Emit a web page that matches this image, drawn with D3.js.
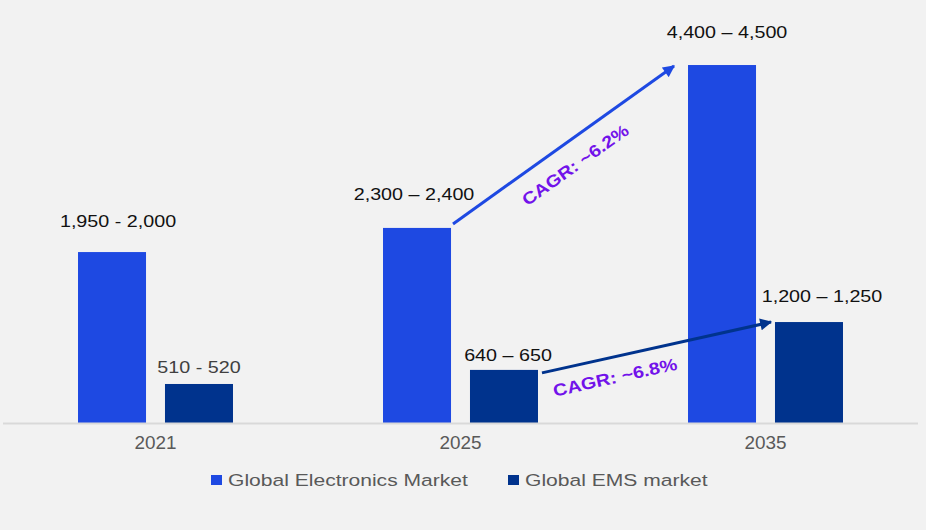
<!DOCTYPE html>
<html>
<head>
<meta charset="utf-8">
<script src="https://cdn.jsdelivr.net/npm/d3@7"></script>
<style>
  html, body { margin: 0; padding: 0; background: #f2f2f2; }
  svg { display: block; font-family: "Liberation Sans", Arial, sans-serif; }
</style>
</head>
<body>
<svg id="chart"></svg>
<script>
// data (bar heights, in the chart's own units)
var years = ["2021", "2025", "2035"];
var series = ["Global Electronics Market", "Global EMS market"];
var electronics = [2125, 2425, 4450];
var ems = [485, 660, 1255];
var electronicsLabels = ["1,950 - 2,000", "2,300 \u2013 2,400", "4,400 \u2013 4,500"];
var emsLabels = ["510 - 520", "640 \u2013 650", "1,200 \u2013 1,250"];
var cagrLabels = ["CAGR: ~6.2%", "CAGR: ~6.8%"];

var width = 926, height = 530;
var colors = { "Global Electronics Market": "#1e49e2", "Global EMS market": "#00338d" };
var purple = "#7213ea";
var stretch = 1.16;

var svg = d3.select("#chart").attr("width", width).attr("height", height);

svg.append("defs").selectAll("marker")
    .data(series)
    .enter()
    .append("marker")
    .attr("id", function(d, i){ return "head" + i; })
    .attr("viewBox", "0 0 10 10")
    .attr("refX", 9).attr("refY", 5)
    .attr("markerWidth", 4.5).attr("markerHeight", 4)
    .attr("markerUnits", "strokeWidth")
    .attr("orient", "auto")
    .append("path")
    .attr("d", "M0,0 L10,5 L0,10 z")
    .attr("fill", function(d){ return colors[d]; });

var x = d3.scaleBand().domain(years).range([3, 918]).paddingInner(0).paddingOuter(0);
var xSub = d3.scaleBand().domain(series).range([0, x.bandwidth()]).paddingInner(0.218).paddingOuter(0.8625);
var y = d3.scaleLinear().domain([0, 4500]).range([423, 61]);

var rows = years.map(function(yr, i){
    return { year: yr, values: [
        { key: series[0], value: electronics[i], label: electronicsLabels[i] },
        { key: series[1], value: ems[i], label: emsLabels[i] }
    ]};
});

// text helper: glyphs in the reference are a bit wider than Arial
function stretchedText(g, tx, ty, txt, sx){
    return g.append("text")
        .attr("transform", "translate(" + tx + "," + ty + ") scale(" + (sx || stretch) + ",1)")
        .text(txt);
}

// bars
var groups = svg.selectAll("g.year")
    .data(rows)
    .enter()
    .append("g")
    .attr("class", "year")
    .attr("transform", function(d){ return "translate(" + x(d.year) + ",0)"; });

groups.selectAll("rect")
    .data(function(d){ return d.values; })
    .enter()
    .append("rect")
    .attr("x", function(d){ return xSub(d.key); })
    .attr("width", xSub.bandwidth())
    .attr("y", function(d){ return y(d.value); })
    .attr("height", function(d){ return y(0) - y(d.value); })
    .attr("fill", function(d){ return colors[d.key]; });

// value labels (small nudges like in the original slide)
var nudge = [[[6, -25], [0, -11]], [[-3, -28], [4, -9]], [[5, -27], [13, -20]]];
rows.forEach(function(r, i){
    var g = svg.append("g").attr("transform", "translate(" + x(r.year) + ",0)");
    r.values.forEach(function(v, j){
        stretchedText(g, xSub(v.key) + xSub.bandwidth() / 2 + nudge[i][j][0], y(v.value) + nudge[i][j][1], v.label)
            .attr("text-anchor", "middle")
            .attr("font-size", 17)
            .attr("fill", (i == 0 && j == 1) ? "#404040" : "#111");
    });
});

// x axis
svg.append("line")
    .attr("x1", x.range()[0]).attr("x2", x.range()[1])
    .attr("y1", y(0) + 0.5).attr("y2", y(0) + 0.5)
    .attr("stroke", "#d9d9d9").attr("stroke-width", 2);

years.forEach(function(yr){
    stretchedText(svg, x(yr) + x.bandwidth() / 2, 449, yr, 1.05)
        .attr("text-anchor", "middle")
        .attr("font-size", 18)
        .attr("fill", "#595959");
});

// CAGR arrows 2025 -> 2035
var arrows = [
    { k: 0, s: [2, -4], e: [-14, 1], along: -2, off: 23 },
    { k: 1, s: [4, 3], e: [-4, 0], along: -47, off: 20 }
];
arrows.forEach(function(a, i){
    var key = series[a.k];
    var vals = a.k == 0 ? electronics : ems;
    var x1 = x("2025") + xSub(key) + xSub.bandwidth() + a.s[0];
    var y1 = y(vals[1]) + a.s[1];
    var x2 = x("2035") + xSub(key) + a.e[0];
    var y2 = y(vals[2]) + a.e[1];
    svg.append("line")
        .attr("x1", x1).attr("y1", y1)
        .attr("x2", x2).attr("y2", y2)
        .attr("stroke", colors[key])
        .attr("stroke-width", 3)
        .attr("marker-end", "url(#head" + a.k + ")");

    var dx = x2 - x1, dy = y2 - y1, len = Math.sqrt(dx * dx + dy * dy);
    var ux = dx / len, uy = dy / len;
    var cx = (x1 + x2) / 2 + ux * a.along - uy * a.off;
    var cy = (y1 + y2) / 2 + uy * a.along + ux * a.off;
    var ang = Math.atan2(dy, dx) * 180 / Math.PI;
    svg.append("text")
        .attr("transform", "translate(" + cx + "," + cy + ") rotate(" + ang + ") scale(" + stretch + ",1)")
        .attr("text-anchor", "middle")
        .attr("dominant-baseline", "central")
        .attr("font-size", 17)
        .attr("font-weight", "bold")
        .attr("fill", purple)
        .text(cagrLabels[i]);
});

// legend
var legend = svg.append("g");
var lx = [211, 508];
series.forEach(function(s, i){
    legend.append("rect")
        .attr("x", lx[i]).attr("y", 475)
        .attr("width", 11).attr("height", 10)
        .attr("fill", colors[s]);
    stretchedText(legend, lx[i] + 17, 486, s, 1.24)
        .attr("font-size", 17)
        .attr("fill", "#595959");
});
</script>
</body>
</html>
